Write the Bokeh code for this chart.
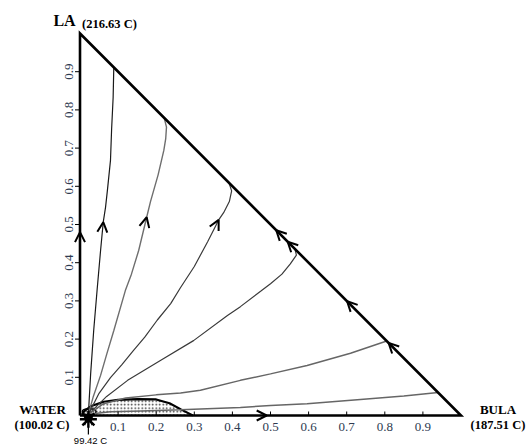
from bokeh.plotting import figure
from bokeh.models import ColumnDataSource, Range1d, Arrow, OpenHead, Label
from bokeh.core.properties import value
from bokeh.embed import file_html
from bokeh.resources import INLINE

# Ternary residue curve map: x = BULA mole fraction, y = LA mole fraction,
# WATER is the remainder (lower-left vertex).

tick_values = [0.1, 0.2, 0.3, 0.4, 0.5, 0.6, 0.7, 0.8, 0.9]
tick_labels = ["0.1", "0.2", "0.3", "0.4", "0.5", "0.6", "0.7", "0.8", "0.9"]

azeotrope = (0.022, 0.0)

# residue curves, listed from the azeotrope towards the LA-BULA edge
curve1_x = [0.022, 0.028, 0.036, 0.045, 0.054, 0.061, 0.067, 0.072, 0.080, 0.083, 0.087, 0.0887]
curve1_y = [0.003, 0.110, 0.223, 0.330, 0.432, 0.506, 0.545, 0.590, 0.668, 0.750, 0.833, 0.912]

curve2_x = [0.022, 0.035, 0.054, 0.070, 0.089, 0.119, 0.135, 0.154, 0.175, 0.185, 0.205, 0.220, 0.225, 0.227, 0.221]
curve2_y = [0.003, 0.050, 0.105, 0.160, 0.223, 0.327, 0.370, 0.432, 0.519, 0.560, 0.630, 0.694, 0.725, 0.755, 0.779]

curve3_x = [0.022, 0.050, 0.080, 0.110, 0.140, 0.170, 0.203, 0.238, 0.264, 0.300, 0.335, 0.364, 0.377, 0.392, 0.398, 0.391]
curve3_y = [0.003, 0.058, 0.099, 0.133, 0.170, 0.205, 0.250, 0.293, 0.335, 0.390, 0.455, 0.512, 0.531, 0.560, 0.588, 0.609]

curve4_x = [0.022, 0.070, 0.125, 0.211, 0.298, 0.387, 0.421, 0.474, 0.500, 0.530, 0.552, 0.568, 0.564]
curve4_y = [0.003, 0.050, 0.092, 0.144, 0.196, 0.262, 0.285, 0.325, 0.345, 0.370, 0.397, 0.420, 0.436]

curve5_x = [0.022, 0.060, 0.120, 0.200, 0.264, 0.316, 0.421, 0.500, 0.596, 0.710, 0.805]
curve5_y = [0.003, 0.030, 0.046, 0.054, 0.059, 0.066, 0.092, 0.109, 0.131, 0.163, 0.195]

curve6_x = [0.022, 0.080, 0.160, 0.264, 0.421, 0.500, 0.596, 0.736, 0.850, 0.940]
curve6_y = [0.003, 0.010, 0.012, 0.015, 0.021, 0.026, 0.031, 0.042, 0.051, 0.060]

curves = [
    (curve1_x, curve1_y, "#1a1a1a", 1.2),
    (curve2_x, curve2_y, "#6e6e6e", 1.4),
    (curve3_x, curve3_y, "#3a3a3a", 1.2),
    (curve4_x, curve4_y, "#3a3a3a", 1.2),
    (curve5_x, curve5_y, "#666666", 1.5),
    (curve6_x, curve6_y, "#666666", 1.5),
]

# index of the curve point that carries a direction arrow
curve_arrow_index = {0: 5, 1: 8, 2: 11}

# liquid-liquid envelope near the WATER-BULA edge
envelope_x = [0.005, 0.012, 0.030, 0.062, 0.100, 0.151, 0.200, 0.235, 0.265, 0.296]
envelope_y = [0.002, 0.012, 0.025, 0.036, 0.041, 0.043, 0.042, 0.032, 0.016, 0.000]

# arrows along the triangle edges
hyp_arrow_x = [0.515, 0.545, 0.701, 0.810]
left_arrow_y = [0.48]
bottom_arrow_x = [0.49]

# pixel frame of the triangle inside the canvas
W, H = 528, 446
X0_PX, Y0_PX, SX, SY = 79.5, 415.0, 381.0, 382.0


def px_x(px):
    return (px - X0_PX) / SX


def px_y(py):
    return (Y0_PX - py) / SY


p = figure(width=W, height=H,
           x_range=Range1d(px_x(0), px_x(W)), y_range=Range1d(px_y(H), px_y(0)),
           output_backend="svg", toolbar_location=None, min_border=0,
           x_axis_location=None, y_axis_location=None,
           background_fill_color="white", border_fill_color="white",
           outline_line_color=None)
p.grid.visible = False

# liquid-liquid region with dotted tie-line fill
env_fill_x = envelope_x + [envelope_x[0]]
env_fill_y = envelope_y + [0.0]
p.patch(env_fill_x, env_fill_y, fill_color="white", hatch_pattern="dot",
        hatch_scale=3.5, hatch_color="#333333", hatch_weight=1.2, line_color=None)
p.line(envelope_x, envelope_y, line_color="black", line_width=2.2)
p.ellipse(x=[0.024], y=[0.010], width=[0.036], height=[0.015],
          fill_color=None, line_color="black", line_width=1.4)

# residue curves
for cx, cy, col, lw in curves:
    p.line(cx, cy, line_color=col, line_width=lw)

# triangle edges
p.line([0, 1, 0, 0], [0, 0, 1, 0], line_color="black", line_width=2.6,
       line_join="miter")

# tick marks
tick_len_x = 4 / SY
tick_len_y = 5 / SX
p.segment(x0=tick_values, y0=[0] * 9, x1=tick_values, y1=[tick_len_x] * 9,
          line_color="black", line_width=1)
p.segment(x0=[0] * 9, y0=tick_values, x1=[-tick_len_y] * 9, y1=tick_values,
          line_color="black", line_width=1)

tick_color = "#2e3a50"
p.text(x=tick_values, y=[0] * 9, text=tick_labels, y_offset=11,
       text_align="center", text_baseline="middle",
       text_font=value("Liberation Serif"), text_font_size="13px",
       text_color=tick_color)
p.text(x=[0] * 9, y=tick_values, text=tick_labels, x_offset=-11, angle=1.5708,
       text_align="center", text_baseline="middle",
       text_font=value("Liberation Serif"), text_font_size="13px",
       text_color=tick_color)

# direction arrows
xs, ys, xe, ye = [], [], [], []
for ci, idx in curve_arrow_index.items():
    cx, cy = curves[ci][0], curves[ci][1]
    xs.append(cx[idx - 1]); ys.append(cy[idx - 1])
    xe.append(cx[idx]); ye.append(cy[idx])
for hx in hyp_arrow_x:
    xs.append(hx + 0.02); ys.append(1 - hx - 0.02)
    xe.append(hx); ye.append(1 - hx)
for ly in left_arrow_y:
    xs.append(0); ys.append(ly - 0.03)
    xe.append(0); ye.append(ly)
for bx in bottom_arrow_x:
    xs.append(bx - 0.03); ys.append(0)
    xe.append(bx); ye.append(0)
arrow_src = ColumnDataSource(dict(xs=xs, ys=ys, xe=xe, ye=ye))
p.add_layout(Arrow(source=arrow_src, x_start="xs", y_start="ys",
                   x_end="xe", y_end="ye", line_alpha=0,
                   end=OpenHead(size=10, line_width=2.0, line_color="black")))

# azeotrope node and its pointer
p.scatter([azeotrope[0]], [azeotrope[1] - 0.010], marker="asterisk", size=17,
          line_color="black", line_width=2.4)
p.scatter([azeotrope[0]], [azeotrope[1] - 0.006], marker="circle", size=8,
          fill_color="black", line_color="black")
p.add_layout(Arrow(x_start=azeotrope[0], y_start=px_y(434), x_end=azeotrope[0],
                   y_end=azeotrope[1] - 0.004, line_color="black", line_width=1.2,
                   end=OpenHead(size=8, line_width=1.6, line_color="black")))

bold = dict(text_font="Liberation Serif", text_font_style="bold",
            text_color="black", text_baseline="middle", text_align="center")
p.add_layout(Label(x=px_x(64), y=px_y(20), text="LA", text_font_size="16px", **bold))
p.add_layout(Label(x=px_x(109), y=px_y(23), text="(216.63 C)", text_font_size="12.5px", **bold))
p.add_layout(Label(x=px_x(42), y=px_y(409), text="WATER", text_font_size="13px", **bold))
p.add_layout(Label(x=px_x(41.5), y=px_y(424), text="(100.02 C)", text_font_size="12.5px", **bold))
p.add_layout(Label(x=px_x(497.5), y=px_y(409), text="BULA", text_font_size="13px", **bold))
p.add_layout(Label(x=px_x(497.5), y=px_y(424), text="(187.51 C)", text_font_size="12.5px", **bold))
p.add_layout(Label(x=px_x(90), y=px_y(440), text="99.42 C", text_font="Liberation Sans",
                   text_font_size="9.5px", text_color="black",
                   text_baseline="middle", text_align="center"))

open("out.html", "w").write(file_html(p, INLINE))
